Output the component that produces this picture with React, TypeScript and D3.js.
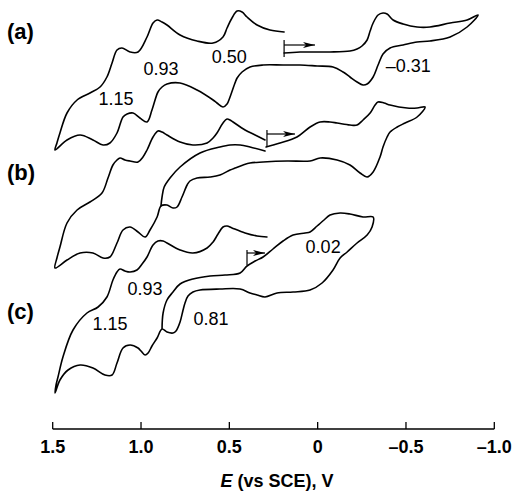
import React from "react";
import * as d3 from "d3";

// Potential axis (V vs SCE)
const xTicks = [1.5, 1.0, 0.5, 0, -0.5, -1.0];
const xTitle = "E";

// Traces: [E (V), current (arbitrary units, offset per panel)]
const traceA: [number, number][] = [
  [0.190, 37.7], [0.100, 37.8], [-0.070, 37.8], [-0.183, 37.9], [-0.223, 38.1], [-0.251, 38.4],
  [-0.280, 39.0], [-0.297, 39.9], [-0.314, 40.7], [-0.342, 41.5], [-0.370, 41.7], [-0.393, 41.6],
  [-0.427, 41.0], [-0.484, 40.6], [-0.563, 40.3], [-0.636, 40.3], [-0.750, 40.7], [-0.846, 41.0],
  [-0.908, 41.5],
  [-0.846, 40.3], [-0.750, 39.3], [-0.636, 38.9], [-0.563, 38.8], [-0.484, 38.5], [-0.410, 38.2],
  [-0.370, 37.6], [-0.342, 36.5], [-0.314, 35.3], [-0.280, 34.6], [-0.257, 34.5], [-0.223, 34.8],
  [-0.183, 35.3], [-0.144, 35.8], [-0.087, 36.3], [0.003, 36.4], [0.100, 36.5], [0.196, 36.5],
  [0.309, 36.5], [0.383, 36.3], [0.428, 35.8], [0.456, 35.2], [0.468, 34.7], [0.496, 33.3],
  [0.513, 32.6], [0.536, 32.3], [0.570, 32.7], [0.592, 33.0], [0.683, 34.0], [0.779, 34.7],
  [0.853, 34.6], [0.881, 34.3], [0.904, 33.8], [0.938, 32.0], [0.966, 30.8], [1.006, 31.2],
  [1.045, 31.7], [1.079, 31.6], [1.102, 31.3], [1.136, 29.7], [1.176, 28.7], [1.215, 28.5],
  [1.272, 29.0], [1.345, 29.5], [1.419, 29.0], [1.487, 28.0],
  [1.476, 28.7], [1.459, 29.7], [1.419, 31.7], [1.362, 33.0], [1.289, 33.7], [1.232, 34.3],
  [1.193, 35.3], [1.164, 36.7], [1.136, 38.0], [1.108, 38.2], [1.062, 37.8], [1.017, 37.8],
  [0.966, 39.3], [0.932, 40.7], [0.909, 41.0], [0.881, 40.8], [0.853, 40.5], [0.779, 39.5],
  [0.683, 38.9], [0.592, 38.7], [0.536, 39.3], [0.513, 40.2], [0.485, 41.2], [0.456, 41.9],
  [0.428, 41.8], [0.400, 41.3], [0.343, 40.5], [0.270, 40.0], [0.190, 39.8],
];

const traceB: [number, number][] = [
  [0.292, 28.3], [0.213, 28.7], [0.117, 29.3], [0.043, 30.3], [-0.014, 30.8], [-0.070, 30.8],
  [-0.110, 30.7], [-0.183, 30.5], [-0.223, 30.5], [-0.257, 31.0], [-0.297, 31.7], [-0.325, 32.5],
  [-0.342, 32.8], [-0.376, 32.7], [-0.410, 32.5], [-0.506, 32.2], [-0.563, 32.2], [-0.608, 32.3],
  [-0.563, 31.3], [-0.495, 30.7], [-0.450, 30.3], [-0.410, 29.8], [-0.393, 29.3], [-0.370, 28.3],
  [-0.353, 27.3], [-0.314, 25.8], [-0.280, 25.3], [-0.240, 25.7], [-0.183, 26.5], [-0.110, 27.0],
  [-0.014, 27.2], [0.043, 26.9], [0.173, 26.9], [0.309, 26.8], [0.383, 26.7], [0.422, 26.5],
  [0.468, 26.2], [0.496, 26.0], [0.553, 25.5], [0.609, 25.3], [0.683, 25.2], [0.723, 24.9],
  [0.739, 24.5], [0.768, 23.3], [0.796, 22.3], [0.819, 22.2], [0.853, 22.5], [0.887, 22.4],
  [0.909, 21.3], [0.949, 20.0], [0.977, 19.3], [1.017, 19.8], [1.062, 20.3], [1.102, 20.0],
  [1.136, 18.7], [1.176, 17.3], [1.215, 17.2], [1.272, 17.7], [1.345, 17.7], [1.419, 17.0],
  [1.487, 16.2],
  [1.476, 17.2], [1.459, 18.3], [1.419, 20.7], [1.362, 22.0], [1.289, 22.8], [1.221, 23.7],
  [1.187, 25.2], [1.159, 26.5], [1.136, 27.0], [1.119, 27.2], [1.091, 27.0], [1.062, 26.9],
  [1.017, 26.8], [0.989, 27.3], [0.966, 28.0], [0.932, 29.3], [0.904, 29.9], [0.881, 29.8],
  [0.853, 29.5], [0.779, 28.8], [0.706, 28.5], [0.626, 28.7], [0.592, 29.2], [0.570, 29.7],
  [0.536, 30.7], [0.513, 31.1], [0.496, 31.0], [0.479, 30.8], [0.411, 30.0], [0.354, 29.5],
  [0.298, 29.0],
];

const traceBInner: [number, number][] = [
  [0.887, 22.4], [0.881, 23.3], [0.869, 24.3], [0.836, 25.2], [0.779, 26.3], [0.666, 27.7],
  [0.553, 28.3], [0.496, 28.5], [0.439, 28.5], [0.383, 28.3], [0.298, 27.9],
];

const traceC: [number, number][] = [
  [0.881, 10.1], [0.875, 11.7], [0.853, 13.0], [0.819, 13.8], [0.779, 14.6], [0.706, 15.1],
  [0.609, 15.4], [0.524, 15.5], [0.439, 15.7], [0.400, 16.4], [0.354, 16.9], [0.309, 17.3],
  [0.253, 18.1], [0.196, 18.9], [0.139, 19.5], [0.071, 19.7], [0.043, 19.8], [0.003, 20.4],
  [-0.036, 21.0], [-0.070, 21.5], [-0.127, 21.7], [-0.183, 21.6], [-0.257, 21.3], [-0.314, 21.3],
  [-0.308, 20.3], [-0.280, 19.5], [-0.223, 18.7], [-0.167, 17.8], [-0.127, 17.2], [-0.087, 16.0],
  [-0.025, 14.7], [0.043, 14.0], [0.139, 13.8], [0.230, 13.7], [0.298, 13.3], [0.343, 13.5],
  [0.383, 13.7], [0.439, 14.1], [0.553, 14.1], [0.666, 14.0], [0.706, 13.8], [0.734, 13.4],
  [0.751, 12.7], [0.762, 12.0], [0.779, 10.8], [0.802, 9.9], [0.819, 9.7], [0.853, 9.8],
  [0.881, 10.1], [0.909, 9.2], [0.938, 8.4], [0.960, 7.7], [0.977, 7.5], [1.000, 7.9],
  [1.017, 8.2], [1.062, 8.5], [1.102, 8.2], [1.136, 6.7], [1.164, 5.5], [1.204, 5.5],
  [1.272, 6.2], [1.345, 6.5], [1.413, 6.0], [1.459, 5.0], [1.487, 3.7],
  [1.481, 4.5], [1.470, 5.3], [1.442, 7.3], [1.385, 10.0], [1.306, 11.7], [1.243, 12.3],
  [1.193, 13.3], [1.159, 15.0], [1.136, 15.8], [1.119, 16.1], [1.091, 15.9], [1.062, 15.8],
  [1.023, 16.0], [0.994, 16.6], [0.966, 17.3], [0.932, 18.5], [0.904, 18.9], [0.875, 18.9],
  [0.853, 18.7], [0.779, 18.0], [0.706, 17.7], [0.626, 18.2], [0.592, 18.8], [0.564, 19.6],
  [0.536, 20.3], [0.513, 20.4], [0.485, 20.2], [0.411, 19.7], [0.343, 19.4], [0.287, 19.3],
];

// Scan start markers: start potential, arrow end potential, current at arrow, bar top, bar bottom
const startE = [0.190, 0.287, 0.400];
const arrowEndE = [0.015, 0.128, 0.298];
const arrowI = [38.5, 29.6, 17.7];
const barTopI = [39.0, 30.0, 18.0];
const barBottomI = [37.3, 28.3, 16.5];

// Peak potential annotations
const peakLabels = ["0.93", "1.15", "0.50", "\u20130.31", "0.93", "1.15", "0.81", "0.02"];
const peakLabelE = [0.887, 1.142, 0.500, -0.513, 0.977, 1.176, 0.604, -0.031];
const peakLabelI = [35.5, 32.5, 36.7, 35.8, 13.5, 10.0, 10.5, 17.7];

const panelLabels = ["(a)", "(b)", "(c)"];

const W = 516;
const H = 501;

export default function App() {
  const x = d3.scaleLinear().domain([1.5, -1.0]).range([52.7, 494.3]);
  const y = d3.scaleLinear().domain([0, 43]).range([430, 0]);
  const line = d3
    .line<[number, number]>()
    .x((d) => x(d[0]))
    .y((d) => y(d[1]))
    .curve(d3.curveCatmullRom.alpha(0.5));

  const axisY = 429;
  const fmt = (d: number) => (d === 0 ? "0" : d < 0 ? "\u2013" + Math.abs(d).toFixed(1) : d.toFixed(1));
  const font = "'Liberation Sans', Arial, Helvetica, sans-serif";
  const panelY = [39, 180, 319];

  return (
    <svg width={W} height={H} style={{ position: "absolute", left: 0, top: 0, background: "#fff" }}>
      <defs>
        <marker id="ah" viewBox="0 0 12 6" refX="12" refY="3" markerWidth="12" markerHeight="6" markerUnits="userSpaceOnUse" orient="auto">
          <path d="M0,0 L12,3 L0,6 L3,3 Z" fill="#000" />
        </marker>
      </defs>
      <g fill="none" stroke="#000" strokeWidth={1.6} strokeLinejoin="round" strokeLinecap="round">
        {[traceA, traceB, traceBInner, traceC].map((t, i) => (
          <path key={i} d={line(t) || ""} />
        ))}
      </g>
      <g stroke="#000" strokeWidth={1.2}>
        {startE.map((e, i) => (
          <g key={i}>
            <line x1={x(e)} x2={x(e)} y1={y(barTopI[i])} y2={y(barBottomI[i])} />
            <line x1={x(e)} x2={x(arrowEndE[i])} y1={y(arrowI[i])} y2={y(arrowI[i])} markerEnd="url(#ah)" />
          </g>
        ))}
      </g>
      <g fontFamily={font} fontSize={18} textAnchor="middle" fill="#000">
        {peakLabels.map((t, i) => (
          <text key={i} x={x(peakLabelE[i])} y={y(peakLabelI[i])}>{t}</text>
        ))}
      </g>
      <g fontFamily={font} fontSize={22} fontWeight="bold" fill="#000">
        {panelLabels.map((t, i) => (
          <text key={i} x={7} y={panelY[i]}>{t}</text>
        ))}
      </g>
      <g>
        <line x1={x(1.5)} x2={x(-1.0)} y1={axisY} y2={axisY} stroke="#000" strokeWidth={1.3} />
        {xTicks.map((t) => (
          <g key={t} transform={`translate(${x(t)},0)`}>
            <line y1={axisY} y2={axisY - 7} stroke="#000" strokeWidth={1.3} />
            <text y={453} textAnchor="middle" fontFamily={font} fontWeight="bold" fontSize={18}>{fmt(t)}</text>
          </g>
        ))}
        <text x={277} y={487} textAnchor="middle" fontFamily={font} fontWeight="bold" fontSize={18}>
          <tspan fontStyle="italic">{xTitle}</tspan>
          <tspan> (vs SCE), V</tspan>
        </text>
      </g>
    </svg>
  );
}
